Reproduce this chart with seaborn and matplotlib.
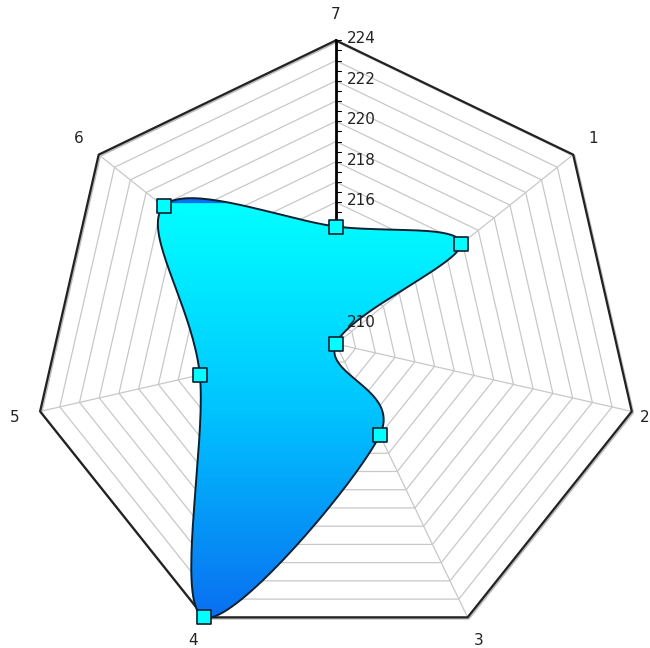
import numpy as np
import matplotlib
matplotlib.use("Agg")
import matplotlib.pyplot as plt
import seaborn as sns
import pandas as pd
from matplotlib.path import Path
from matplotlib.colors import LinearSegmentedColormap

# данные (по осям, по часовой стрелке от верхней оси "7")
categories = ["7", "1", "2", "3", "4", "5", "6"]
values = [214.8, 216.9, 209.0, 214.0, 224.0, 215.9, 219.9]
r_min, r_max = 209, 224
tick_labels = [210, 212, 214, 216, 218, 220, 222, 224]

sns.set_style("white")
plt.rcParams['font.family'] = ['DejaVu Sans']

n = len(categories)
ang = np.pi / 2 - np.arange(n) * 2 * np.pi / n


def to_xy(v, a):
    r = (np.asarray(v) - r_min) / (r_max - r_min)
    return r * np.cos(a), r * np.sin(a)


fig = plt.figure(figsize=(6.5, 6.48), dpi=100)
ax = fig.add_axes([0, 0, 1, 1])

# сетка: кольца-семиугольники
ring_ang = np.append(ang, ang[0])
for lev in range(r_min + 1, r_max):
    x, y = to_xy(np.full(n + 1, lev), ring_ang)
    ax.plot(x, y, color="#c8c8c8", lw=0.9, zorder=1)
x, y = to_xy(np.full(n + 1, r_max), ring_ang)
ax.plot(x + 0.004, y - 0.004, color="#bbbbbb", lw=1.6, zorder=1)
ax.plot(x, y, color="#222222", lw=1.6, zorder=2)

# лучи
for a in ang:
    ax.plot([0, np.cos(a)], [0, np.sin(a)], color="#c8c8c8", lw=0.9, zorder=1)

# сглаженный контур (замкнутый сплайн Катмулла-Рома)
px, py = to_xy(values, ang)
P = np.column_stack([px, py])
curve = []
ts = np.linspace(0, 1, 40, endpoint=False)
for i in range(n):
    p0, p1, p2, p3 = P[i - 1], P[i], P[(i + 1) % n], P[(i + 2) % n]
    for t in ts:
        t2, t3 = t * t, t * t * t
        curve.append(0.5 * ((2 * p1) + (-p0 + p2) * t
                            + (2 * p0 - 5 * p1 + 4 * p2 - p3) * t2
                            + (-p0 + 3 * p1 - 3 * p2 + p3) * t3))
curve = np.array(curve + [curve[0]])
shape = Path(curve)

# ось 7 с делениями
ax.plot([0, 0], [0, 1], color="black", lw=2, zorder=2)
for t in np.arange(r_min, r_max + 0.01, 0.5):
    yy = (t - r_min) / (r_max - r_min)
    ax.plot([0, 0.018], [yy, yy], color="black", lw=0.8, zorder=2)
for t in tick_labels:
    yy = (t - r_min) / (r_max - r_min)
    hidden = shape.contains_point((0.1, yy))
    ax.text(0.035, yy + 0.005, str(t), fontsize=11, color="#222222",
            ha="left", va="center", zorder=2 if hidden else 6)

# подписи категорий
for c, a in zip(categories, ang):
    lx, ly = 1.085 * np.cos(a), 1.085 * np.sin(a)
    ax.text(min(lx, 1.018), ly, c, fontsize=11,
            color="#222222", ha="center", va="center")

# градиентная заливка (выше верхнего маркера градиент повторяется)
cmap = LinearSegmentedColormap.from_list("g", ["#0a6ff0", "#00c4ff", "#00ffff"])
ymin, ymax = curve[:, 1].min(), curve[:, 1].max()
ycut = py.max() + 0.01
yy = np.linspace(ymin, ymax, 400)
tt = (yy - ymin) / (ycut - ymin)
tt = np.where(tt > 1, (tt - 1) * 0.3, tt)
img = ax.imshow(tt.reshape(-1, 1), extent=[-1.2, 1.2, ymin, ymax],
                origin="lower", cmap=cmap, vmin=0, vmax=1,
                aspect="auto", zorder=3)
poly = plt.Polygon(curve, closed=True, facecolor="none", edgecolor="none")
ax.add_patch(poly)
img.set_clip_path(poly)
ax.plot(curve[:, 0], curve[:, 1], color="#0b2030", lw=1.4, zorder=4)

df = pd.DataFrame({"x": px, "y": py, "cat": categories})
sns.scatterplot(data=df, x="x", y="y", marker="s", s=110, color="#00ffff",
                edgecolor="#0b2030", linewidth=1.2, zorder=5, ax=ax, legend=False)
ax.set_xlim(-1.107, 1.035)
ax.set_ylim(-1.002, 1.133)
ax.axis("off")

fig.savefig("out.png", dpi=100)
